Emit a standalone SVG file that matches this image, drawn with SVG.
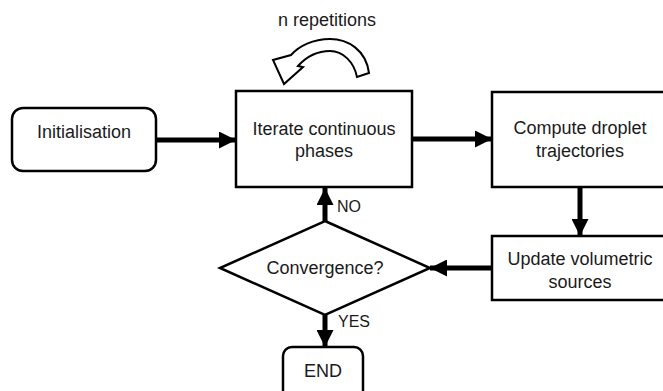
<svg xmlns="http://www.w3.org/2000/svg" width="663" height="391" viewBox="0 0 663 391">
<defs>
<marker id="ah" viewBox="0 0 10 10" refX="10" refY="5" markerWidth="3.6" markerHeight="3.4" markerUnits="strokeWidth" orient="auto">
<path d="M0,0 L10,5 L0,10 Z" fill="#000"/>
</marker>
<style>
.box{fill:#fff;stroke:#000;stroke-width:2.5}
.t{font-family:"Liberation Sans",Arial,sans-serif;font-size:18px;fill:#1a1a1a;text-anchor:middle}
.l{font-family:"Liberation Sans",Arial,sans-serif;font-size:16px;fill:#1a1a1a}
.c{stroke:#000;stroke-width:5;fill:none;marker-end:url(#ah)}
</style>
</defs>
<rect width="663" height="391" fill="#fff"/>
<g id="repeat">
<text class="t" x="327" y="26">n repetitions</text>
<path d="M369,73 C366,50 348,39 330,39 C313,39 299,46 291,55 L273,60 L284,84 L303,67 L298,66 C307,56 318,51 330,51 C343,51 354,62 357,77 Z" fill="#fff" stroke="#000" stroke-width="2" stroke-linejoin="miter"/>
</g>
<g id="connectors">
<line class="c" x1="156" y1="140" x2="236" y2="140"/>
<line class="c" x1="412" y1="139" x2="492" y2="139"/>
<line class="c" x1="580" y1="187" x2="580" y2="236"/>
<line class="c" x1="492" y1="268" x2="430" y2="268"/>
<line class="c" x1="325" y1="221" x2="325" y2="188"/>
<line class="c" x1="325" y1="315" x2="325" y2="347"/>
<text class="l" x="337" y="212">NO</text>
<text class="l" x="338" y="327">YES</text>
</g>
<g id="init">
<rect class="box" x="12" y="108" width="144" height="63" rx="11"/>
<text class="t" x="84" y="138">Initialisation</text>
</g>
<g id="iterate">
<rect class="box" x="236" y="91" width="176" height="96"/>
<text class="t" x="324" y="135">Iterate continuous</text>
<text class="t" x="324" y="157">phases</text>
</g>
<g id="compute">
<rect class="box" x="492" y="92" width="180" height="95"/>
<text class="t" x="580" y="134">Compute droplet</text>
<text class="t" x="580" y="157">trajectories</text>
</g>
<g id="update">
<rect class="box" x="492" y="236" width="180" height="64"/>
<text class="t" x="580" y="265">Update volumetric</text>
<text class="t" x="580" y="288">sources</text>
</g>
<g id="convergence">
<path class="box" d="M325,221 L430,268 L325,315 L220,268 Z"/>
<text class="t" x="325" y="274">Convergence?</text>
</g>
<g id="end">
<rect class="box" x="283" y="347" width="80" height="56" rx="9"/>
<text class="t" x="323" y="377">END</text>
</g>
</svg>
